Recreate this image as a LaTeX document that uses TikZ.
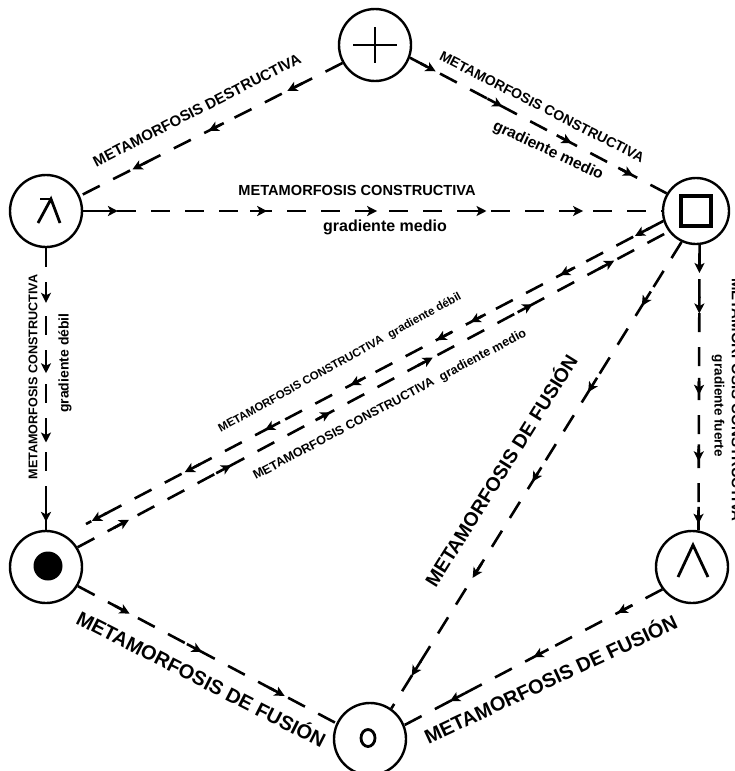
\documentclass[tikz,border=0pt]{standalone}
\usepackage{fontspec}
\setmainfont{Liberation Sans}
\usetikzlibrary{decorations.markings,arrows.meta}
\newcommand{\fz}[1]{\fontsize{#1}{#1}\selectfont\bfseries}
\tikzset{
  nd/.style={circle,draw,line width=2.4pt,minimum size=72pt,inner sep=0pt},
  conn/.style={line width=2.6pt,dash pattern=on 19pt off 15pt},
  am/.style={postaction={decorate,decoration={markings,mark=at position #1 with {\draw[solid,line width=2.6pt,-{Stealth[length=10pt,width=10pt,inset=2.5pt]}] (-17pt,0pt)--(0pt,0pt);}}}},
  sym/.style={line width=2.8pt},
  lbl/.style={inner sep=0pt},
}
\begin{document}
\begin{tikzpicture}[x=1pt,y=-1pt]
\useasboundingbox (0,0) rectangle (734,771);
% nodes
\node[nd] (top) at (375,45) {};
\node[nd] (left) at (46,211) {};
\node[nd,minimum size=66pt] (sq) at (696,211) {};
\node[nd] (dot) at (46,567) {};
\node[nd] (wedge) at (692,567) {};
\node[nd] (bot) at (370,739) {};
\coordinate (dotin) at (86,524);
% symbols
\draw[sym] ([xshift=-22pt]top.center) -- ([xshift=22pt]top.center);
\draw[sym] ([yshift=18pt]top.center) -- ([yshift=-18pt]top.center);
\draw[sym] ([shift={(-6pt,12pt)}]left.center) -- ([shift={(6pt,12pt)}]left.center);
\draw[sym,line join=miter] ([shift={(-8pt,-12pt)}]left.center) -- ([shift={(5pt,12pt)}]left.center) -- ([shift={(14pt,-12pt)}]left.center);
\draw[line width=3.2pt] ([shift={(-15pt,-15pt)}]sq.center) rectangle ([shift={(15pt,15pt)}]sq.center);
\fill ([shift={(2pt,1pt)}]dot.center) circle[radius=14.5pt];
\draw[sym] ([shift={(-14pt,-10pt)}]wedge.center) -- ([shift={(1pt,22pt)}]wedge.center) -- ([shift={(16pt,-10pt)}]wedge.center);
\draw[sym] ([shift={(-2pt,1pt)}]bot.center) ellipse[x radius=7pt,y radius=8.5pt];
% connectors
\draw[conn,am=0.21,am=0.51,am=0.80] (top.209) -- (left.24);
\draw[conn,am=0.10,am=0.36,am=0.63,am=0.87] (top.340) -- (sq.149);
\draw[conn,am=0.06,am=0.318,am=0.508,am=0.697,am=0.864] (left.east) -- (sq.west);
\draw[conn,am=0.194,am=0.444,am=0.69,am=0.972] (left.south) -- (dot.north);
\draw[conn,am=0.098,am=0.24,am=0.525,am=0.758,am=0.977] (sq.276) -- (wedge.80);
\draw[conn,am=0.049,am=0.179,am=0.334,am=0.393,am=0.542,am=0.69,am=0.829,am=0.99] (sq.197) -- (dotin);
\draw[conn,am=0.087,am=0.26,am=0.428,am=0.601,am=0.77,am=0.908] (dot.32) -- (sq.217);
\draw[conn,am=0.137,am=0.322,am=0.514,am=0.72,am=0.93] (sq.245) -- (bot.55);
\draw[conn,am=0.2,am=0.48,am=0.8] (dot.329) -- (bot.155);
\draw[conn,am=0.174,am=0.5,am=0.824] (wedge.217) -- (bot.22);
% labels
\node[lbl,rotate=27,font=\fz{15}] (l1) at (197,110) {METAMORFOSIS DESTRUCTIVA};
\node[lbl,rotate=-27,font=\fz{14}] (l2) at (542,107) {METAMORFOSIS CONSTRUCTIVA};
\node[lbl,rotate=-25,font=\fz{15.5}] (l3) at (548,151) {gradiente medio};
\node[lbl,font=\fz{14.6}] (l4) at (357,190) {METAMORFOSIS CONSTRUCTIVA};
\node[lbl,font=\fz{16}] (l5) at (385,227) {gradiente medio};
\node[lbl,rotate=90,font=\fz{12.6}] (l6) at (33,377) {METAMORFOSIS CONSTRUCTIVA};
\node[lbl,rotate=90,font=\fz{14}] (l7) at (65,363) {gradiente débil};
\node[lbl,rotate=-90,font=\fz{13.5}] (l8) at (718,406) {gradiente fuerte};
\node[lbl,rotate=-90,font=\fz{15}] (l9) at (737,400) {METAMORFOSIS CONSTRUCTIVA};
\node[lbl,rotate=29,font=\fz{11.5}] (l10) at (340,363) {METAMORFOSIS CONSTRUCTIVA\hspace{0.6em}gradiente débil};
\node[lbl,rotate=28,font=\fz{12.5}] (l11) at (390,405) {METAMORFOSIS CONSTRUCTIVA\hspace{0.6em}gradiente medio};
\node[lbl,rotate=58,font=\fz{19.5}] (l12) at (500,470) {METAMORFOSIS DE FUSIÓN};
\node[lbl,rotate=-27,font=\fz{20}] (l13) at (202,678) {METAMORFOSIS DE FUSIÓN};
\node[lbl,rotate=25,font=\fz{20}] (l14) at (550,678) {METAMORFOSIS DE FUSIÓN};
\end{tikzpicture}
\end{document}
